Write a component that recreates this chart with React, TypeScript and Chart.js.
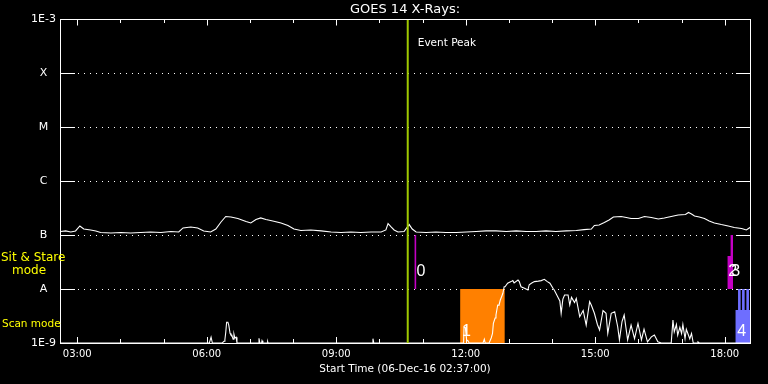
import React, { useEffect, useRef } from 'react';
import { Chart, registerables } from 'chart.js';

Chart.register(...registerables);

const FONT = "'DejaVu Sans', sans-serif";
const LABEL_FONT = "'Liberation Sans', sans-serif";

const chartTitle = 'GOES 14 X-Rays:';
const xAxisTitle = 'Start Time (06-Dec-16 02:37:00)';
const xMinHour = 2.6;
const xMaxHour = 18.585;
const xTickHours = [3, 4, 5, 6, 7, 8, 9, 10, 11, 12, 13, 14, 15, 16, 17, 18];
const yTickValues = [1e-9, 1e-8, 1e-7, 1e-6, 1e-5, 1e-4, 1e-3];
const yTickLabels = ['1E-9', 'A', 'B', 'C', 'M', 'X', '1E-3'];
const gridValues = [1e-8, 1e-7, 1e-6, 1e-5, 1e-4];

const eventPeakHour = 10.656;
const eventPeakLabel = 'Event Peak';

// Sit & Stare windows (start === end means a single-instant mark)
const sitStareLabels = ['0', '2', '3'];
const sitStareStart = [10.833, 18.06, 18.13];
const sitStareEnd = [10.833, 18.192, 18.192];
const sitStareTop = [1e-7, 4.08e-8, 1e-7];
const sitStareBottom = 1e-8;

// Scan mode windows
const scanLabels = ['1', '4', '', '', ''];
const scanStart = [11.869, 18.245, 18.338, 18.431, 18.531];
const scanEnd = [12.905, 18.585, 18.338, 18.431, 18.531];
const scanTop = [1e-8, 4.08e-9, 1e-8, 1e-8, 1e-8];
const scanColors = ['#ff8000', '#6e6eff', '#6e6eff', '#6e6eff', '#6e6eff'];
const scanBottom = 1e-9;

const upperHours = [
  2.62, 2.73, 2.85, 2.96, 3.06, 3.15, 3.31, 3.43, 3.54, 3.78, 4.01, 4.24, 4.47, 4.70, 4.94,
  5.17, 5.35, 5.45, 5.63, 5.79, 5.93, 6.09, 6.21, 6.33, 6.44, 6.56, 6.72, 6.91, 7.02, 7.14,
  7.25, 7.37, 7.53, 7.72, 7.88, 8.02, 8.18, 8.41, 8.65, 8.88, 9.11, 9.34, 9.57, 9.81, 10.04,
  10.15, 10.20, 10.27, 10.34, 10.43, 10.57, 10.69, 10.76, 10.85, 11.08, 11.31, 11.54, 11.78,
  12.01, 12.24, 12.47, 12.70, 12.94, 13.17, 13.40, 13.63, 13.86, 14.09, 14.33, 14.56, 14.74,
  14.91, 14.98, 15.09, 15.21, 15.32, 15.42, 15.60, 15.72, 15.83, 16.00, 16.14, 16.30, 16.46,
  16.60, 16.76, 16.92, 17.09, 17.16, 17.23, 17.30, 17.41, 17.53, 17.64, 17.76, 17.92, 18.08,
  18.22, 18.39, 18.50, 18.62,
];
const upperFlux = [
  1.16e-7, 1.19e-7, 1.14e-7, 1.19e-7, 1.47e-7, 1.29e-7, 1.24e-7, 1.19e-7, 1.11e-7, 1.09e-7,
  1.11e-7, 1.09e-7, 1.11e-7, 1.14e-7, 1.11e-7, 1.16e-7, 1.14e-7, 1.35e-7, 1.41e-7, 1.35e-7,
  1.19e-7, 1.14e-7, 1.29e-7, 1.74e-7, 2.20e-7, 2.15e-7, 2.02e-7, 1.78e-7, 1.67e-7, 1.94e-7,
  2.07e-7, 1.94e-7, 1.82e-7, 1.67e-7, 1.50e-7, 1.29e-7, 1.21e-7, 1.24e-7, 1.19e-7, 1.14e-7,
  1.11e-7, 1.14e-7, 1.11e-7, 1.14e-7, 1.14e-7, 1.24e-7, 1.63e-7, 1.41e-7, 1.24e-7, 1.14e-7,
  1.16e-7, 1.56e-7, 1.29e-7, 1.14e-7, 1.11e-7, 1.14e-7, 1.11e-7, 1.11e-7, 1.14e-7, 1.16e-7,
  1.19e-7, 1.19e-7, 1.16e-7, 1.19e-7, 1.16e-7, 1.16e-7, 1.19e-7, 1.16e-7, 1.19e-7, 1.21e-7,
  1.26e-7, 1.29e-7, 1.50e-7, 1.53e-7, 1.70e-7, 1.90e-7, 2.15e-7, 2.20e-7, 2.11e-7, 2.02e-7,
  2.02e-7, 2.20e-7, 2.11e-7, 1.98e-7, 2.07e-7, 2.20e-7, 2.35e-7, 2.40e-7, 2.61e-7, 2.45e-7,
  2.25e-7, 2.15e-7, 2.02e-7, 1.82e-7, 1.67e-7, 1.56e-7, 1.47e-7, 1.38e-7, 1.32e-7, 1.24e-7,
  1.44e-7,
];

const lowerHours = [
  2.62, 6.06, 6.10, 6.13, 6.36, 6.40, 6.42, 6.44, 6.46, 6.49, 6.51, 6.54, 6.56, 6.58, 6.61,
  6.63, 6.65, 6.68, 6.70, 7.20, 7.21, 7.23, 7.27, 7.28, 7.30, 7.40, 7.41, 7.42, 9.83, 9.85,
  9.87, 11.95, 11.96, 11.99, 12.02, 12.05, 12.08, 12.40, 12.43, 12.45, 12.54, 12.59, 12.62,
  12.64, 12.68, 12.70, 12.74, 12.77, 12.80, 12.83, 12.86, 12.89, 12.91, 12.97, 13.05, 13.09,
  13.12, 13.21, 13.24, 13.28, 13.36, 13.44, 13.47, 13.52, 13.59, 13.68, 13.75, 13.82, 13.89,
  13.95, 14.02, 14.05, 14.13, 14.18, 14.21, 14.25, 14.29, 14.37, 14.41, 14.45, 14.52, 14.56,
  14.64, 14.72, 14.79, 14.87, 14.91, 14.98, 15.05, 15.10, 15.18, 15.25, 15.29, 15.37, 15.45,
  15.52, 15.56, 15.62, 15.67, 15.75, 15.83, 15.91, 15.99, 16.07, 16.13, 16.21, 16.30, 16.37,
  16.45, 16.53, 16.76, 16.80, 16.83, 16.88, 16.91, 16.96, 17.00, 17.03, 17.08, 17.11, 17.19,
  17.23, 17.27, 17.36, 17.38, 17.41, 18.62,
];
const lowerFlux = [
  1e-9, 1e-9, 1.28e-9, 1e-9, 1e-9, 1.08e-9, 1.15e-9, 1.58e-9, 2.42e-9, 2.42e-9, 2.15e-9,
  1.51e-9, 1.41e-9, 1.41e-9, 1.17e-9, 1.45e-9, 1.24e-9, 1.28e-9, 1e-9, 1e-9, 1.22e-9, 1e-9,
  1e-9, 1.1e-9, 1e-9, 1e-9, 1.06e-9, 1e-9, 1e-9, 1.2e-9, 1e-9, 1e-9, 1.95e-9, 1.95e-9,
  1.14e-9, 1.1e-9, 1e-9, 1e-9, 1.17e-9, 1e-9, 1e-9, 1.24e-9, 1.5e-9, 2.32e-9, 2.9e-9,
  3.3e-9, 5.05e-9, 5.0e-9, 6.25e-9, 7.2e-9, 8.32e-9, 1.1e-8, 1.1e-8, 1.28e-8, 1.37e-8,
  1.43e-8, 1.3e-8, 1.47e-8, 1.37e-8, 1.1e-8, 1.03e-8, 9.6e-9, 1.2e-8, 1.28e-8, 1.37e-8,
  1.4e-8, 1.43e-8, 1.51e-8, 1.37e-8, 1.28e-8, 1.03e-8, 9.6e-9, 7.2e-9, 6.0e-9, 3.55e-9,
  6.5e-9, 7.74e-9, 7.74e-9, 5.05e-9, 7.0e-9, 5.6e-9, 6.7e-9, 3.07e-9, 4.0e-9, 2.15e-9,
  5.82e-9, 5.0e-9, 3.55e-9, 2.2e-9, 1.74e-9, 4.0e-9, 3.55e-9, 1.51e-9, 3.55e-9, 3.8e-9,
  2.0e-9, 1.14e-9, 2.5e-9, 3.3e-9, 1.14e-9, 2.15e-9, 1.2e-9, 2.3e-9, 1.14e-9, 1.8e-9,
  1.05e-9, 1.3e-9, 1.41e-9, 1.05e-9, 1e-9, 1e-9, 2.67e-9, 1.6e-9, 2.2e-9, 1.4e-9, 1.95e-9,
  1.5e-9, 2.2e-9, 1.2e-9, 1.8e-9, 1.2e-9, 1.5e-9, 1e-9, 1e-9, 1.05e-9, 1e-9, 1e-9,
];

const sitStareColor = '#c400c4';
const peakColor = '#9fc800';

const overlayPlugin = {
  id: 'goesOverlay',
  beforeDraw(chart: any) {
    const { ctx, width, height } = chart;
    ctx.save();
    ctx.fillStyle = '#000';
    ctx.fillRect(0, 0, width, height);
    ctx.restore();
  },
  beforeDatasetsDraw(chart: any) {
    const { ctx, chartArea: a, scales } = chart;
    const y = scales.y;
    const L = Math.round(a.left);
    const R = Math.round(a.right);
    ctx.save();
    ctx.strokeStyle = '#fff';
    ctx.lineWidth = 1;
    for (const v of gridValues) {
      const py = Math.round(y.getPixelForValue(v)) + 0.5;
      ctx.setLineDash([]);
      ctx.beginPath();
      ctx.moveTo(L, py);
      ctx.lineTo(L + 15, py);
      ctx.moveTo(R - 14, py);
      ctx.lineTo(R + 1, py);
      ctx.stroke();
      ctx.setLineDash([1, 5]);
      ctx.beginPath();
      ctx.moveTo(L + 18, py);
      ctx.lineTo(R - 16, py);
      ctx.stroke();
    }
    ctx.restore();
  },
  afterDatasetsDraw(chart: any) {
    const { ctx, chartArea: a, scales } = chart;
    const x = scales.x;
    const y = scales.y;
    const L = Math.round(a.left);
    const R = Math.round(a.right);
    const T = Math.round(a.top);
    const B = Math.round(a.bottom);
    ctx.save();
    ctx.strokeStyle = '#fff';
    ctx.lineWidth = 1;
    ctx.setLineDash([]);
    ctx.strokeRect(L + 0.5, T + 0.5, R - L, B - T);
    ctx.beginPath();
    for (const h of xTickHours) {
      const px = Math.round(x.getPixelForValue(h)) + 0.5;
      const major = h % 3 === 0;
      ctx.moveTo(px, B + 0.5);
      ctx.lineTo(px, B - (major ? 6 : 4));
      ctx.moveTo(px, T);
      ctx.lineTo(px, T + (major ? 6.5 : 4));
    }
    ctx.stroke();

    // Event peak label
    ctx.fillStyle = '#fff';
    ctx.font = `10.5px ${FONT}`;
    ctx.textAlign = 'left';
    ctx.textBaseline = 'middle';
    ctx.fillText(eventPeakLabel, x.getPixelForValue(eventPeakHour) + 10, T + 24);

    // mode labels
    const yB = y.getPixelForValue(1e-7);
    const yA = y.getPixelForValue(1e-8);
    ctx.fillStyle = '#ffff00';
    ctx.font = `12px ${FONT}`;
    ctx.fillText('Sit & Stare', 1, yB + 23);
    ctx.fillText('mode', 12, yB + 36);
    ctx.font = `10.5px ${FONT}`;
    ctx.fillText('Scan mode', 2, yA + 35);

    // band labels
    ctx.fillStyle = '#fff';
    ctx.font = `16px ${LABEL_FONT}`;
    sitStareLabels.forEach((lab, i) => {
      if (!lab) return;
      ctx.fillText(lab, x.getPixelForValue(sitStareStart[i]) + 1, yA - 17);
    });
    scanLabels.forEach((lab, i) => {
      if (!lab) return;
      ctx.fillText(lab, x.getPixelForValue(scanStart[i]) + 2, B - 11);
    });
    ctx.restore();
  },
};

function bandDataset(start: number, end: number, top: number, bottom: number, color: string, lineWidth: number) {
  if (start === end) {
    return {
      type: 'line',
      data: [
        { x: start, y: top },
        { x: start, y: bottom },
      ],
      borderColor: color,
      borderWidth: lineWidth,
      borderCapStyle: 'butt',
      pointRadius: 0,
      fill: false,
      order: 2,
    };
  }
  return {
    type: 'line',
    data: [
      { x: start, y: top },
      { x: end, y: top },
    ],
    borderColor: 'rgba(0,0,0,0)',
    borderWidth: 0,
    backgroundColor: color,
    fill: { value: bottom },
    pointRadius: 0,
    order: 2,
  };
}

export default function App() {
  const canvasRef = useRef<HTMLCanvasElement | null>(null);

  useEffect(() => {
    document.body.style.margin = '0';
    document.body.style.background = '#000';
    const canvas = canvasRef.current;
    if (!canvas) return;

    const rectSets: any[] = [];
    sitStareLabels.forEach((_, i) => {
      rectSets.push(
        bandDataset(sitStareStart[i], sitStareEnd[i], sitStareTop[i], sitStareBottom, sitStareColor, 1.6)
      );
    });
    scanLabels.forEach((_, i) => {
      rectSets.push(bandDataset(scanStart[i], scanEnd[i], scanTop[i], scanBottom, scanColors[i], 2.6));
    });

    const chart = new Chart(canvas, {
      type: 'line',
      data: {
        datasets: [
          {
            data: [
              { x: eventPeakHour, y: 1e-9 },
              { x: eventPeakHour, y: 1e-3 },
            ],
            borderColor: peakColor,
            borderWidth: 2,
            pointRadius: 0,
            order: 0,
          },
          {
            data: upperHours.map((h, i) => ({ x: h, y: upperFlux[i] })),
            borderColor: '#fff',
            borderWidth: 1.1,
            pointRadius: 0,
            order: 1,
          },
          {
            data: lowerHours.map((h, i) => ({ x: h, y: lowerFlux[i] })),
            borderColor: '#fff',
            borderWidth: 1.1,
            pointRadius: 0,
            order: 1,
          },
          ...rectSets,
        ],
      },
      options: {
        responsive: false,
        animation: false,
        events: [],
        layout: { padding: { left: 0, right: 18, top: 0, bottom: 0 } },
        elements: { line: { tension: 0 }, point: { radius: 0 } },
        plugins: {
          legend: { display: false },
          tooltip: { enabled: false },
          title: {
            display: true,
            text: chartTitle,
            color: '#fff',
            fullSize: false,
            font: { family: FONT, size: 13, weight: 'normal' },
            padding: { top: 2, bottom: 1.4 },
          },
        },
        scales: {
          x: {
            type: 'linear',
            min: xMinHour,
            max: xMaxHour,
            afterBuildTicks: (scale: any) => {
              scale.ticks = xTickHours.map((v) => ({ value: v }));
            },
            afterFit: (scale: any) => {
              scale.height = 41;
            },
            grid: { display: false, drawTicks: false, tickLength: 0 },
            border: { display: false },
            ticks: {
              autoSkip: false,
              maxRotation: 0,
              color: '#fff',
              padding: 5,
              font: { family: FONT, size: 10 },
              callback: (v: any) => {
                const n = Number(v);
                if (n % 3 !== 0) return '';
                return String(n).padStart(2, '0') + ':00';
              },
            },
            title: {
              display: true,
              text: xAxisTitle,
              color: '#fff',
              font: { family: FONT, size: 10.5 },
              padding: { top: 0, bottom: 8.4 },
            },
          },
          y: {
            type: 'logarithmic',
            min: 1e-9,
            max: 1e-3,
            afterBuildTicks: (scale: any) => {
              scale.ticks = yTickValues.map((v) => ({ value: v }));
            },
            afterFit: (scale: any) => {
              scale.width = 60;
            },
            grid: { display: false, drawTicks: false, tickLength: 0 },
            border: { display: false },
            ticks: {
              autoSkip: false,
              color: '#fff',
              padding: 4,
              crossAlign: 'center',
              font: { family: FONT, size: 11 },
              callback: (v: any) => {
                const n = Number(v);
                const idx = yTickValues.findIndex(
                  (t) => Math.abs(Math.log10(t) - Math.log10(n)) < 1e-6
                );
                return idx >= 0 ? yTickLabels[idx] : '';
              },
            },
          },
        },
      },
      plugins: [overlayPlugin],
    } as any);

    return () => chart.destroy();
  }, []);

  return (
    <div style={{ position: 'absolute', left: 0, top: 0, width: 768, height: 384, background: '#000' }}>
      <canvas ref={canvasRef} width={768} height={384} style={{ display: 'block', width: 768, height: 384 }} />
    </div>
  );
}
